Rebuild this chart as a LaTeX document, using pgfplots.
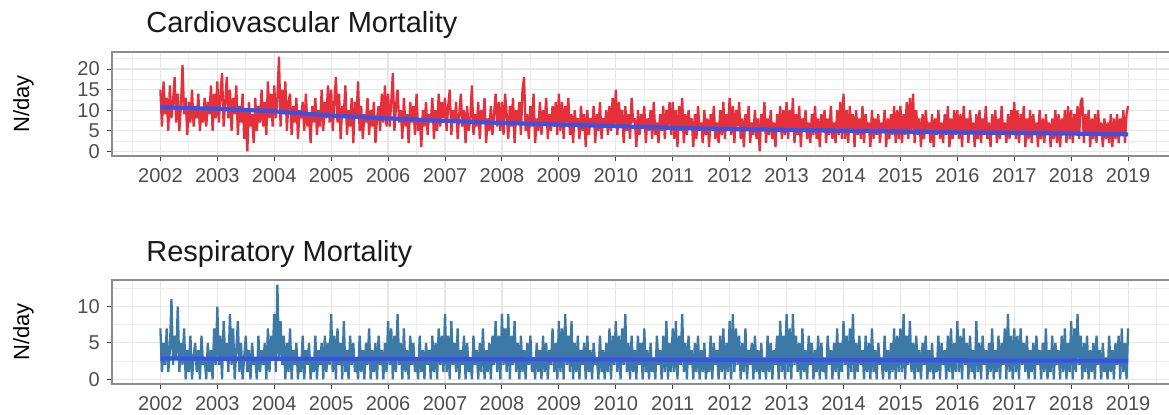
\documentclass[border=0pt]{standalone}
\usepackage{pgfplots}
\pgfplotsset{compat=1.18}
\usepackage{pgfplotstable}
\usepackage{fontspec}
\setmainfont{Liberation Sans}
\definecolor{cvred}{HTML}{E5303C}
\definecolor{rsblue}{HTML}{3D79A6}
\definecolor{smblue}{HTML}{3853E4}
\definecolor{gridc}{HTML}{E6E6E6}
\definecolor{ticklab}{HTML}{4D4D4D}
\definecolor{framec}{HTML}{8C8C8C}

% Cardiovascular mortality, N/day, ~every 10 days, 2002.0 -- 2019.0 (36 per year)
\pgfplotstableread[header=false,row sep=\\]{
15\\6\\17\\9\\13\\5\\16\\8\\12\\18\\7\\14\\5\\11\\21\\9\\13\\4\\12\\7\\15\\6\\11\\8\\14\\5\\10\\7\\13\\6\\12\\9\\16\\5\\14\\8\\
17\\7\\14\\19\\6\\12\\18\\8\\15\\5\\13\\9\\16\\4\\11\\7\\14\\3\\10\\0\\12\\6\\9\\2\\13\\5\\11\\7\\15\\6\\12\\4\\17\\8\\14\\6\\
16\\8\\13\\23\\6\\15\\9\\17\\5\\12\\14\\4\\11\\7\\13\\3\\10\\8\\12\\5\\14\\6\\9\\2\\11\\7\\13\\4\\10\\6\\15\\5\\12\\8\\16\\7\\
15\\5\\12\\18\\7\\14\\3\\11\\9\\16\\4\\10\\6\\13\\2\\12\\8\\17\\5\\11\\3\\9\\7\\13\\4\\10\\6\\12\\2\\8\\11\\5\\14\\7\\16\\6\\
14\\6\\12\\19\\5\\11\\15\\7\\10\\3\\13\\6\\9\\2\\12\\7\\11\\4\\14\\5\\8\\1\\10\\6\\12\\4\\9\\7\\13\\3\\10\\5\\14\\6\\12\\8\\
13\\5\\11\\15\\4\\10\\7\\12\\3\\9\\14\\6\\10\\2\\11\\5\\8\\16\\4\\9\\6\\12\\3\\10\\7\\13\\2\\8\\5\\11\\4\\9\\14\\6\\12\\5\\
12\\4\\14\\9\\3\\11\\6\\13\\2\\10\\7\\12\\4\\15\\18\\5\\9\\3\\11\\6\\14\\2\\8\\5\\12\\4\\10\\7\\13\\3\\9\\5\\11\\6\\12\\4\\
14\\5\\12\\3\\11\\7\\13\\4\\9\\2\\10\\6\\8\\3\\11\\5\\9\\1\\10\\4\\8\\6\\11\\2\\9\\5\\12\\3\\8\\6\\10\\4\\11\\5\\13\\6\\
15\\4\\12\\6\\10\\2\\11\\5\\9\\3\\13\\7\\8\\1\\10\\4\\9\\6\\11\\2\\8\\5\\10\\3\\12\\4\\7\\2\\9\\5\\11\\3\\10\\6\\12\\4\\
12\\3\\10\\1\\11\\5\\13\\2\\9\\4\\10\\6\\8\\1\\9\\3\\11\\5\\7\\2\\10\\4\\8\\1\\9\\5\\11\\3\\7\\2\\10\\4\\12\\3\\9\\5\\
13\\4\\11\\2\\10\\6\\12\\3\\8\\1\\9\\5\\11\\2\\7\\4\\10\\3\\8\\0\\9\\5\\12\\2\\8\\4\\10\\3\\7\\1\\9\\5\\11\\3\\10\\4\\
12\\3\\10\\5\\13\\2\\9\\4\\11\\1\\8\\5\\10\\3\\7\\2\\9\\4\\11\\3\\8\\1\\9\\5\\10\\2\\8\\4\\11\\3\\7\\2\\10\\4\\12\\3\\
14\\3\\10\\2\\11\\5\\9\\1\\10\\4\\8\\3\\11\\2\\9\\5\\7\\1\\10\\3\\8\\4\\9\\2\\7\\5\\10\\1\\8\\3\\9\\4\\11\\2\\10\\3\\
11\\2\\9\\4\\12\\3\\13\\5\\14\\2\\10\\4\\8\\1\\9\\3\\10\\5\\7\\2\\9\\1\\8\\4\\10\\3\\7\\2\\9\\4\\11\\1\\8\\3\\10\\4\\
10\\3\\9\\1\\11\\4\\8\\2\\10\\5\\7\\1\\9\\3\\10\\2\\8\\4\\11\\3\\7\\1\\9\\4\\10\\2\\8\\3\\11\\4\\7\\2\\9\\3\\10\\4\\
12\\3\\10\\2\\9\\4\\11\\1\\8\\3\\10\\2\\9\\4\\7\\1\\10\\3\\8\\2\\9\\4\\7\\1\\8\\3\\10\\2\\9\\1\\8\\4\\10\\2\\11\\3\\
10\\2\\9\\4\\11\\3\\12\\13\\2\\9\\4\\10\\1\\8\\3\\9\\2\\10\\4\\7\\1\\8\\3\\7\\2\\9\\1\\8\\3\\9\\2\\8\\4\\10\\2\\9\\
11\\
}\cardio

% Respiratory mortality, N/day, same sampling
\pgfplotstableread[header=false,row sep=\\]{
7\\1\\5\\2\\7\\1\\4\\11\\2\\6\\3\\10\\1\\5\\2\\7\\0\\4\\1\\6\\0\\3\\5\\1\\4\\0\\6\\2\\3\\0\\5\\1\\4\\0\\7\\2\\
10\\2\\6\\0\\8\\3\\5\\1\\9\\2\\7\\0\\4\\8\\1\\5\\0\\3\\6\\1\\4\\0\\5\\2\\3\\0\\6\\1\\4\\2\\5\\0\\7\\1\\6\\3\\
9\\1\\13\\3\\8\\2\\6\\0\\5\\1\\7\\0\\4\\2\\5\\0\\3\\1\\6\\0\\4\\2\\5\\0\\3\\1\\6\\0\\4\\2\\5\\0\\6\\1\\5\\2\\
9\\1\\6\\0\\7\\2\\5\\0\\8\\1\\4\\0\\6\\2\\5\\1\\3\\0\\6\\1\\4\\0\\5\\2\\7\\0\\4\\1\\5\\0\\6\\2\\4\\0\\5\\1\\
8\\2\\7\\0\\6\\1\\9\\2\\5\\0\\7\\1\\4\\0\\6\\2\\5\\1\\3\\0\\6\\1\\4\\0\\5\\2\\4\\0\\6\\1\\5\\0\\7\\2\\6\\1\\
9\\1\\6\\0\\8\\2\\5\\1\\7\\0\\4\\2\\6\\0\\5\\1\\3\\0\\6\\2\\4\\0\\5\\1\\7\\0\\4\\1\\5\\0\\6\\2\\8\\1\\6\\0\\
9\\2\\7\\1\\9\\0\\6\\2\\8\\1\\5\\0\\6\\1\\4\\0\\5\\2\\6\\1\\3\\0\\5\\1\\4\\0\\6\\1\\5\\0\\4\\2\\7\\1\\5\\0\\
8\\1\\7\\0\\9\\2\\6\\1\\8\\0\\5\\1\\6\\0\\4\\2\\5\\0\\6\\1\\4\\0\\5\\2\\3\\0\\6\\1\\4\\0\\5\\1\\7\\0\\6\\2\\
8\\1\\6\\0\\7\\2\\9\\1\\5\\0\\6\\1\\4\\0\\6\\2\\5\\0\\7\\1\\4\\0\\5\\1\\3\\0\\6\\2\\4\\0\\6\\1\\8\\0\\5\\1\\
7\\1\\8\\0\\6\\2\\9\\1\\5\\0\\6\\2\\4\\0\\5\\1\\6\\0\\4\\1\\5\\0\\3\\1\\6\\0\\5\\2\\4\\0\\6\\1\\7\\0\\5\\1\\
8\\0\\9\\1\\7\\2\\6\\0\\5\\1\\7\\0\\4\\2\\5\\0\\6\\1\\4\\0\\5\\1\\3\\0\\6\\1\\5\\0\\4\\2\\6\\0\\8\\1\\6\\0\\
9\\1\\7\\0\\9\\2\\6\\1\\5\\0\\7\\1\\4\\0\\6\\2\\5\\0\\4\\1\\6\\0\\5\\1\\3\\0\\6\\2\\4\\0\\5\\1\\7\\0\\5\\1\\
8\\2\\6\\0\\7\\1\\9\\0\\5\\1\\6\\2\\4\\0\\6\\1\\5\\0\\7\\1\\4\\0\\5\\2\\3\\0\\6\\1\\4\\0\\5\\1\\7\\0\\6\\1\\
7\\1\\9\\0\\6\\2\\8\\1\\5\\0\\6\\1\\4\\0\\5\\2\\6\\0\\4\\1\\5\\0\\3\\1\\6\\0\\5\\2\\4\\0\\6\\1\\7\\0\\5\\1\\
8\\1\\6\\0\\7\\2\\5\\0\\6\\1\\4\\0\\8\\1\\5\\0\\6\\2\\4\\0\\5\\1\\7\\0\\4\\1\\6\\0\\5\\2\\7\\0\\9\\1\\6\\0\\
7\\1\\6\\0\\7\\2\\5\\1\\6\\0\\4\\1\\5\\0\\6\\2\\4\\0\\5\\1\\7\\0\\4\\1\\6\\0\\5\\2\\4\\0\\6\\1\\7\\0\\5\\1\\
8\\0\\7\\1\\9\\2\\6\\0\\5\\1\\6\\0\\4\\1\\5\\0\\6\\2\\4\\0\\5\\1\\3\\0\\6\\1\\4\\0\\5\\2\\6\\0\\7\\1\\5\\0\\
7\\
}\resp

\pgfplotsset{panel/.style={
  scale only axis, width=532.25pt, height=52pt,
  xmin=-30.6, xmax=642.6,
  xtick={0,36,...,612},
  xticklabels={2002,2003,2004,2005,2006,2007,2008,2009,2010,2011,2012,2013,2014,2015,2016,2017,2018,2019},
  minor xtick={-18,18,...,630},
  grid=both,
  major grid style={gridc, line width=0.6pt},
  minor grid style={gridc!75, line width=0.35pt},
  axis line style={framec, line width=0.6pt},
  tick align=outside, major tick length=2.6pt, minor tick length=0pt,
  tick style={draw=black!75, line width=0.5pt},
  xtick pos=bottom, ytick pos=left,
  tick label style={font=\fontsize{10}{12}\selectfont, text=ticklab},
  /pgf/number format/assume math mode=true,
  clip=true,
}}

\begin{document}
\begin{tikzpicture}
\begin{axis}[panel, at={(56pt,114pt)}, anchor=south west,
  ymin=-1.15, ymax=24.15, ytick={0,5,10,15,20}, minor ytick={2.5,7.5,...,22.5}]
\addplot[cvred, line width=1.15pt, line join=bevel] table[x expr=\coordindex, y index=0] {\cardio};
\addplot[smblue, line width=2.1pt, smooth] coordinates {
(0,10.7)(36,10.3)(72,9.7)(108,8.7)(144,8.0)(180,7.4)(216,6.9)(252,6.5)(288,6.1)
(324,5.7)(360,5.4)(396,5.2)(432,5.0)(468,4.8)(504,4.6)(540,4.45)(576,4.3)(612,4.1)};
\end{axis}
\begin{axis}[panel, at={(56pt,0pt)}, anchor=south west,
  ymin=-0.65, ymax=13.65, ytick={0,5,10}, minor ytick={2.5,7.5,12.5}]
\addplot[rsblue, line width=1.15pt, line join=bevel] table[x expr=\coordindex, y index=0] {\resp};
\addplot[smblue, line width=2.1pt, smooth] coordinates {(0,2.85)(306,2.7)(612,2.55)};
\end{axis}
\node[anchor=base west, inner sep=0pt, font=\fontsize{14.5}{17}\selectfont, text=black!90] at (73pt,175.5pt) {Cardiovascular Mortality};
\node[anchor=base west, inner sep=0pt, font=\fontsize{14.5}{17}\selectfont, text=black!90] at (73pt,61.2pt) {Respiratory Mortality};
\node[rotate=90, inner sep=0pt, font=\fontsize{11}{13}\selectfont] at (11.7pt,140pt) {N/day};
\node[rotate=90, inner sep=0pt, font=\fontsize{11}{13}\selectfont] at (11.7pt,26pt) {N/day};
\pgfresetboundingbox
\path[use as bounding box] (0pt,-15.5pt) rectangle (584.5pt,192pt);
\end{tikzpicture}
\end{document}
